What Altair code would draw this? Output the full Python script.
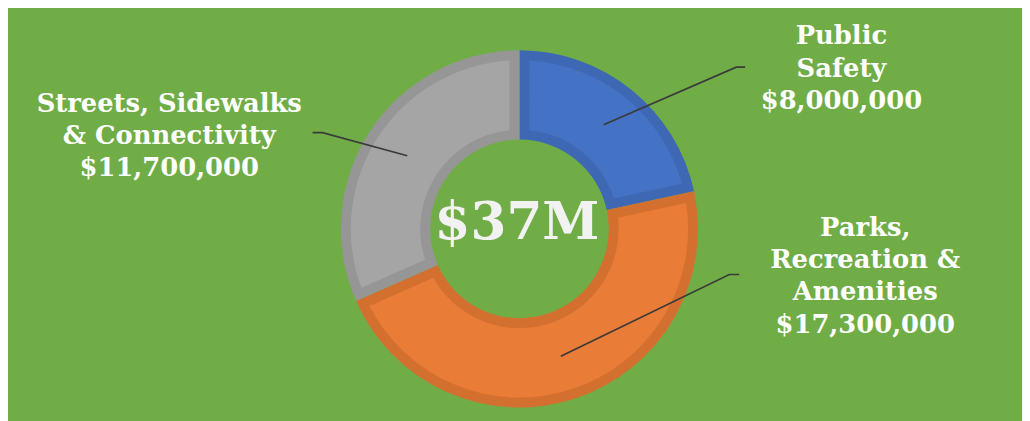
import math
import altair as alt
import pandas as pd

# ---- data ----
categories = ["Public Safety", "Parks, Recreation & Amenities", "Streets, Sidewalks & Connectivity"]
amounts = [8.0, 17.3, 11.7]  # $ millions
label_lines = [
    ["Public", "Safety", "$8,000,000"],
    ["Parks,", "Recreation &", "Amenities", "$17,300,000"],
    ["Streets, Sidewalks", "& Connectivity", "$11,700,000"],
]
center_text = "$37M"

# ---- styles / layout ----
light_colors = ["#4472C4", "#E97C36", "#A5A5A5"]
dark_colors = ["#3E68B3", "#D4702F", "#969696"]
BG = "#70AD47"
W, H = 1022, 413
CX, CY = 515.5, 221
R_OUT, R_IN, BORDER = 180, 90, 10
R_LEADER = 135
# label anchors: (center x, first baseline y, line height)
label_anchor = [(840, 35, 32.5), (864, 228, 32.5), (162.5, 103.5, 32)]
# leader elbow and end points
elbow = [(734, 58), (727, 267), (317, 124)]
leader_end = [(743, 58), (737, 267), (307, 124)]
FONT = "DejaVu Serif"
LABEL_SIZE = 26

total = sum(amounts)
arc_df = pd.DataFrame({"category": categories, "value": amounts, "order": list(range(len(categories)))})

# leader lines: start at middle of each slice (derived from data)
rows = []
cum = 0.0
for i, (c, v) in enumerate(zip(categories, amounts)):
    mid = (cum + v / 2) / total * 2 * math.pi
    cum += v
    sx = CX + R_LEADER * math.sin(mid)
    sy = CY - R_LEADER * math.cos(mid)
    pts = [(sx, sy), elbow[i], leader_end[i]]
    for k, (px, py) in enumerate(pts):
        rows.append({"category": c, "seq": k, "x": px, "y": py})
line_df = pd.DataFrame(rows)

trows = []
for i, lines in enumerate(label_lines):
    ax, ay, lh = label_anchor[i]
    for k, t in enumerate(lines):
        trows.append({"category": categories[i], "text": t, "x": ax, "y": ay + k * lh})
text_df = pd.DataFrame(trows)

xs = alt.Scale(domain=[0, W], nice=False, zero=False)
ys = alt.Scale(domain=[0, H], nice=False, zero=False, reverse=True)

base_arc = alt.Chart(arc_df).encode(
    theta=alt.Theta("value:Q", stack=True),
    order=alt.Order("order:Q"),
    x=alt.value(CX),
    y=alt.value(CY),
)

outer = base_arc.mark_arc(radius=R_OUT, radius2=R_IN).encode(
    color=alt.Color("category:N", scale=alt.Scale(domain=categories, range=dark_colors), legend=None)
)

pad_r = math.sqrt((R_OUT - BORDER) ** 2 + (R_IN + BORDER) ** 2)
inner = base_arc.mark_arc(
    radius=R_OUT - BORDER, radius2=R_IN + BORDER, padAngle=2 * BORDER / pad_r
).encode(
    color=alt.Color("category:N", scale=alt.Scale(domain=categories, range=light_colors), legend=None)
)

leaders = alt.Chart(line_df).mark_line(color="#3A3A3A", strokeWidth=1.6).encode(
    x=alt.X("x:Q", scale=xs, axis=None),
    y=alt.Y("y:Q", scale=ys, axis=None),
    detail="category:N",
    order="seq:Q",
)

labels = alt.Chart(text_df).mark_text(
    font=FONT, fontSize=LABEL_SIZE, fontWeight="bold", color="#FFFFFF",
    align="center", baseline="alphabetic",
).encode(
    x=alt.X("x:Q", scale=xs, axis=None),
    y=alt.Y("y:Q", scale=ys, axis=None),
    text="text:N",
)

center = alt.Chart(pd.DataFrame({"t": [center_text]})).mark_text(
    font=FONT, fontSize=52, fontWeight="bold", color="#F2F2F2",
    align="center", baseline="alphabetic",
).encode(x=alt.value(513), y=alt.value(231), text="t:N")

chart = alt.layer(outer, inner, leaders, labels, center).resolve_scale(
    color="independent"
).properties(
    width=W, height=H, padding=0, background=BG,
    autosize=alt.AutoSizeParams(type="fit", contains="padding"),
).configure_view(stroke=None)

chart.save("out.html", embed_options={"renderer": "svg", "actions": False})
